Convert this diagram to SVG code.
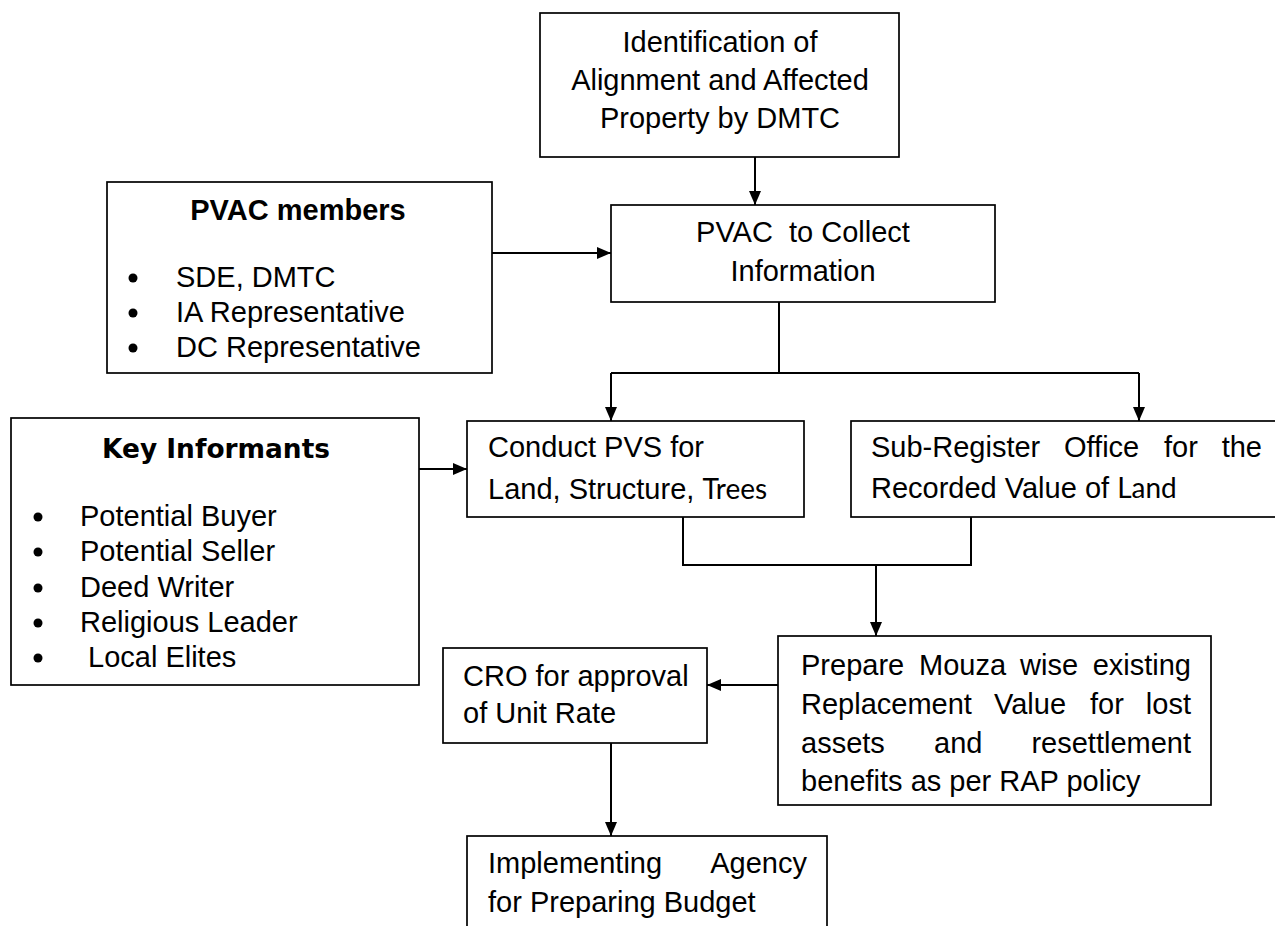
<svg xmlns="http://www.w3.org/2000/svg" width="1275" height="926" viewBox="0 0 1275 926">
<defs>
<style>
.box{fill:#fff;stroke:#000;stroke-width:1.7}
.t{font-family:"Liberation Sans",Arial,sans-serif;font-size:29px;fill:#000}
.c{font-family:Lato,"Liberation Sans",sans-serif;font-size:28px}
.b{font-weight:bold}
.mid{text-anchor:middle}
.end{text-anchor:end}
.conn{fill:none;stroke:#000;stroke-width:2}
.dot{fill:#000}
</style>
<marker id="ah" markerUnits="userSpaceOnUse" markerWidth="14" markerHeight="12" refX="14" refY="6" orient="auto">
<path d="M0,0 L14,6 L0,12 z" fill="#000"/>
</marker>
</defs>
<rect width="1275" height="926" fill="#fff"/>

<g id="connectors">
<line class="conn" x1="755" y1="157" x2="755" y2="205" marker-end="url(#ah)"/>
<line class="conn" x1="492" y1="253" x2="611" y2="253" marker-end="url(#ah)"/>
<polyline class="conn" points="779,302 779,373"/>
<polyline class="conn" points="611,373 1139,373"/>
<line class="conn" x1="611" y1="373" x2="611" y2="421" marker-end="url(#ah)"/>
<line class="conn" x1="1139" y1="373" x2="1139" y2="421" marker-end="url(#ah)"/>
<line class="conn" x1="419" y1="469" x2="467" y2="469" marker-end="url(#ah)"/>
<polyline class="conn" points="683,517 683,565 971,565 971,517"/>
<line class="conn" x1="876" y1="565" x2="876" y2="636" marker-end="url(#ah)"/>
<line class="conn" x1="778" y1="685" x2="707" y2="685" marker-end="url(#ah)"/>
<line class="conn" x1="611" y1="743" x2="611" y2="836" marker-end="url(#ah)"/>
</g>

<g id="identification">
<rect class="box" x="540" y="13" width="359" height="144"/>
<text class="t mid" x="720" y="52">Identification of</text>
<text class="t mid" x="720" y="90">Alignment and Affected</text>
<text class="t mid" x="720" y="128">Property by DMTC</text>
</g>

<g id="pvac-collect">
<rect class="box" x="611" y="205" width="384" height="97"/>
<text class="t mid" x="803" y="242" style="white-space:pre">PVAC  to Collect</text>
<text class="t mid" x="803" y="281">Information</text>
</g>

<g id="pvac-members">
<rect class="box" x="107" y="182" width="385" height="191"/>
<text class="t b mid" x="298" y="220">PVAC members</text>
<circle class="dot" cx="133" cy="278" r="4.5"/>
<circle class="dot" cx="133" cy="313" r="4.5"/>
<circle class="dot" cx="133" cy="348" r="4.5"/>
<text class="t" x="176" y="287">SDE, DMTC</text>
<text class="t" x="176" y="322">IA Representative</text>
<text class="t" x="176" y="357">DC Representative</text>
</g>

<g id="key-informants">
<rect class="box" x="11" y="418" width="408" height="267"/>
<text x="216" y="458" text-anchor="middle" font-family="'DejaVu Sans',Verdana,sans-serif" font-weight="bold" font-size="27" textLength="228" lengthAdjust="spacingAndGlyphs">Key Informants</text>
<circle class="dot" cx="38" cy="517" r="4.5"/>
<circle class="dot" cx="38" cy="552" r="4.5"/>
<circle class="dot" cx="38" cy="588" r="4.5"/>
<circle class="dot" cx="38" cy="623" r="4.5"/>
<circle class="dot" cx="38" cy="658" r="4.5"/>
<text class="t" x="80" y="526">Potential Buyer</text>
<text class="t" x="80" y="561">Potential Seller</text>
<text class="t" x="80" y="597">Deed Writer</text>
<text class="t" x="80" y="632">Religious Leader</text>
<text class="t" x="88" y="667">Local Elites</text>
</g>

<g id="conduct-pvs">
<rect class="box" x="467" y="421" width="337" height="96"/>
<text class="t" x="488" y="457">Conduct PVS for</text>
<text class="t" x="488" y="499">Land, Structure, <tspan class="c">Trees</tspan></text>
</g>

<g id="sub-register">
<rect class="box" x="851" y="421" width="440" height="96"/>
<text class="t" x="871" y="457">Sub-Register</text>
<text class="t" x="1064" y="457">Office</text>
<text class="t" x="1164" y="457">for</text>
<text class="t end" x="1262" y="457">the</text>
<text class="t" x="871" y="498">Recorded Value of <tspan class="c">Land</tspan></text>
</g>

<g id="prepare-mouza">
<rect class="box" x="778" y="636" width="433" height="169"/>
<text class="t" x="801" y="675">Prepare</text>
<text class="t" x="919" y="675">Mouza</text>
<text class="t" x="1020" y="675">wise</text>
<text class="t end" x="1191" y="675">existing</text>
<text class="t" x="801" y="714">Replacement</text>
<text class="t" x="994" y="714">Value</text>
<text class="t" x="1090" y="714">for</text>
<text class="t end" x="1191" y="714">lost</text>
<text class="t" x="801" y="753">assets</text>
<text class="t" x="934" y="753">and</text>
<text class="t end" x="1191" y="753">resettlement</text>
<text class="t" x="801" y="791">benefits as per RAP policy</text>
</g>

<g id="cro">
<rect class="box" x="443" y="648" width="264" height="95"/>
<text class="t" x="463" y="686">CRO for approval</text>
<text class="t" x="463" y="723">of Unit Rate</text>
</g>

<g id="implementing-agency">
<rect class="box" x="467" y="836" width="360" height="110"/>
<text class="t" x="488" y="873">Implementing</text>
<text class="t end" x="807" y="873">Agency</text>
<text class="t" x="488" y="912">for Preparing Budget</text>
</g>
</svg>
